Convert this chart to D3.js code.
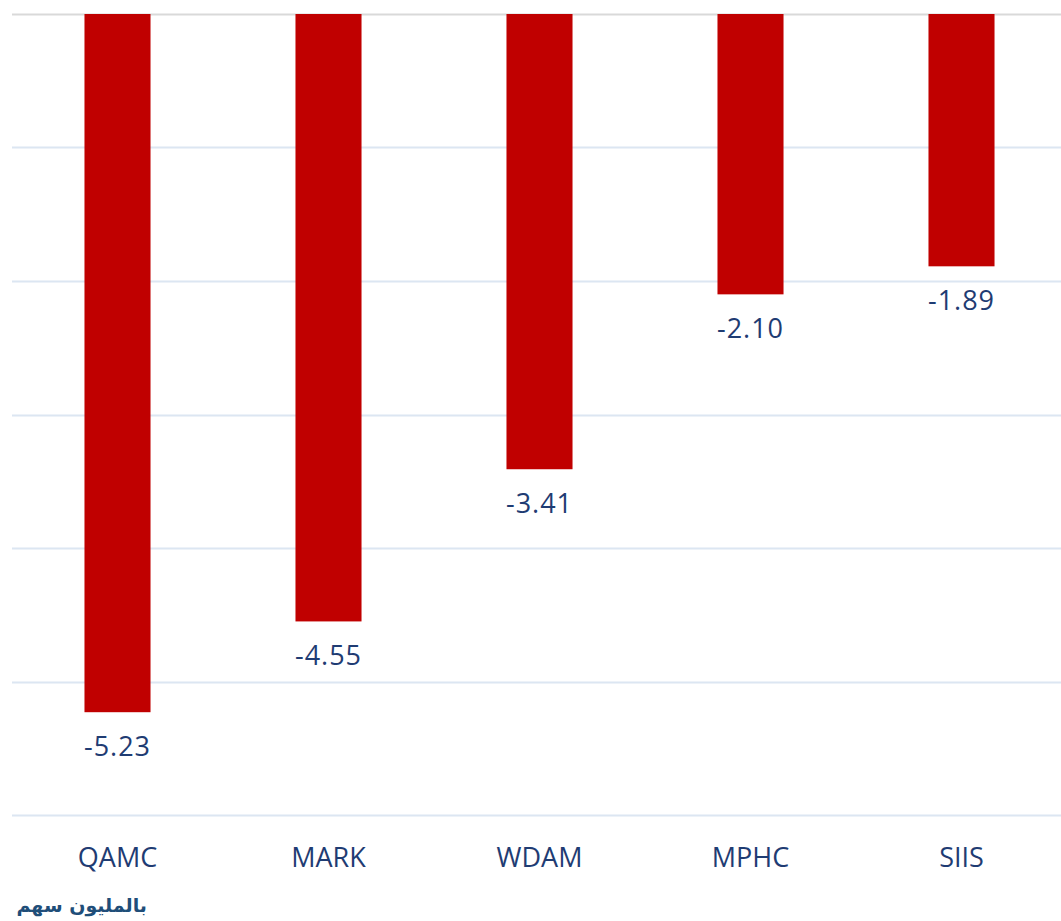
<!DOCTYPE html>
<html>
<head>
<meta charset="utf-8">
<script src="https://cdn.jsdelivr.net/npm/d3@7"></script>
<style>
  html, body { margin: 0; padding: 0; background: #ffffff; }
  svg { display: block; }
</style>
</head>
<body>
<svg id="chart" width="1061" height="921"></svg>
<script>
const categories = ["QAMC", "MARK", "WDAM", "MPHC", "SIIS"];
const values = [-5.23, -4.55, -3.41, -2.10, -1.89];
const tickValues = [0, -1, -2, -3, -4, -5, -6];
const unitLabel = "بالمليون سهم";

const plotLeft = 12, gridRight = 1061, plotRight = 1067, plotTop = 14, plotBottom = 815;

const svg = d3.select("#chart");

const x = d3.scaleBand()
  .domain(categories)
  .range([plotLeft, plotRight])
  .paddingInner(0.687)
  .paddingOuter(0.3435);

const y = d3.scaleLinear()
  .domain([0, -6])
  .range([plotTop, plotBottom]);

// gridlines
svg.append("g")
  .selectAll("line")
  .data(tickValues)
  .join("line")
  .attr("x1", plotLeft)
  .attr("x2", gridRight)
  .attr("y1", d => Math.round(y(d)) + 0.5)
  .attr("y2", d => Math.round(y(d)) + 0.5)
  .attr("stroke", d => d === 0 ? "#d9d9d9" : "#dce6f2")
  .attr("stroke-width", 2);

// bars
svg.append("g")
  .selectAll("rect")
  .data(values)
  .join("rect")
  .attr("x", (d, i) => x(categories[i]))
  .attr("width", x.bandwidth())
  .attr("y", y(0))
  .attr("height", d => y(d) - y(0))
  .attr("fill", "#c00000");

// value labels
svg.append("g")
  .selectAll("text")
  .data(values)
  .join("text")
  .attr("x", (d, i) => x(categories[i]) + x.bandwidth() / 2)
  .attr("y", d => y(d) + 44)
  .attr("text-anchor", "middle")
  .attr("font-family", "'Open Sans', sans-serif")
  .attr("font-size", 27)
  .attr("letter-spacing", 1)
  .attr("fill", "#1f3c73")
  .text(d => d.toFixed(2));

// category labels
svg.append("g")
  .selectAll("text")
  .data(categories)
  .join("text")
  .attr("x", d => x(d) + x.bandwidth() / 2)
  .attr("y", 867)
  .attr("text-anchor", "middle")
  .attr("font-family", "'Open Sans', sans-serif")
  .attr("font-size", 27)
  .attr("fill", "#1f3c73")
  .text(d => d);

// unit label
svg.append("text")
  .attr("x", 147)
  .attr("y", 912)
  .attr("text-anchor", "start")
  .attr("direction", "rtl")
  .attr("font-family", "'DejaVu Sans', sans-serif")
  .attr("font-weight", "bold")
  .attr("font-size", 19)
  .attr("fill", "#1f4e79")
  .text(unitLabel);
</script>
</body>
</html>
